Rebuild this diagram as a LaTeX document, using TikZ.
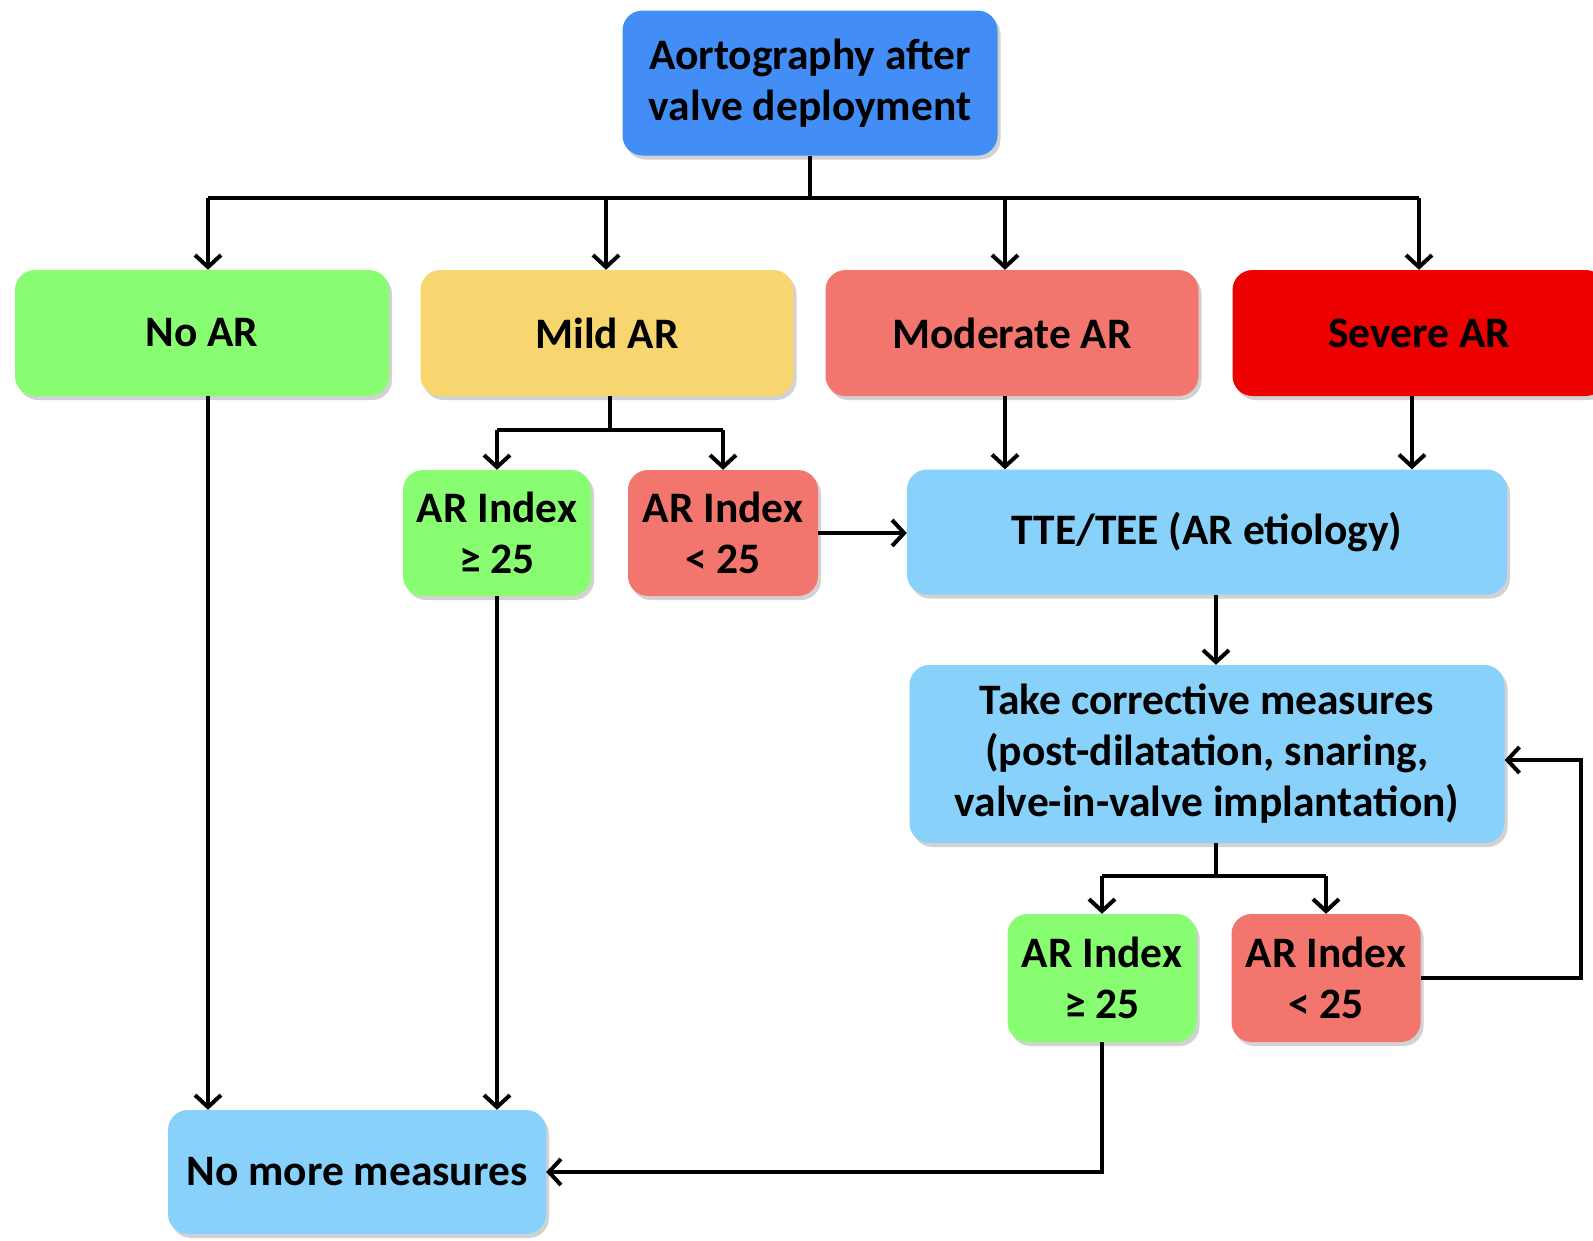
\documentclass[tikz,border=0pt]{standalone}
\usepackage{fontspec}
\setmainfont{Carlito}
\usetikzlibrary{arrows.meta,shadows,calc}
\definecolor{cblue}{RGB}{66,142,246}
\definecolor{cgreen}{RGB}{136,253,114}
\definecolor{cyellow}{RGB}{247,214,112}
\definecolor{csalmon}{RGB}{243,118,110}
\definecolor{cred}{RGB}{236,0,0}
\definecolor{clight}{RGB}{135,209,250}
\begin{document}
\begin{tikzpicture}[x=1pt,y=-1pt,
  box/.style={rounded corners=20pt, draw=none, align=center,
    font=\fontsize{43.5}{51}\selectfont\bfseries, inner sep=0pt,
    drop shadow={shadow xshift=3pt,shadow yshift=-4pt,opacity=0.25,fill=black!70}},
  conn/.style={line width=4pt, -{Straight Barb[length=12pt,width=26pt,line width=4pt]}},
  plain/.style={line width=4pt}
]
\useasboundingbox (0,0) rectangle (1593,1240);
\clip (0,0) rectangle (1593,1240);
\fill[white] (0,0) rectangle (1593,1240);

\node[box, fill=cblue, minimum width=375pt, minimum height=145pt] (top) at (810,83) {Aortography after\\valve deployment};
\node[box, fill=cgreen, minimum width=374pt, minimum height=126pt] (noar) at (202,333) {No AR};
\node[box, fill=cyellow, minimum width=373pt, minimum height=126pt] (mild) at (607,333) {Mild AR};
\node[box, fill=csalmon, minimum width=373pt, minimum height=126pt] (mod) at (1012,333) {Moderate AR};
\node[box, fill=cred, minimum width=373pt, minimum height=126pt] (sev) at (1419,333) {Severe AR};
\node[box, fill=cgreen, minimum width=188pt, minimum height=126pt] (a1g) at (497,533) {AR Index\\≥ 25};
\node[box, fill=csalmon, minimum width=190pt, minimum height=126pt] (a1r) at (723,533) {AR Index\\< 25};
\node[box, fill=clight, minimum width=600pt, minimum height=125pt] (tte) at (1207,532) {TTE/TEE (AR etiology)};
\node[box, fill=clight, minimum width=595pt, minimum height=178pt] (take) at (1207,754) {Take corrective measures\\(post-dilatation, snaring,\\valve-in-valve implantation)};
\node[box, fill=cgreen, minimum width=189pt, minimum height=128pt] (a2g) at (1102,978) {AR Index\\≥ 25};
\node[box, fill=csalmon, minimum width=189pt, minimum height=128pt] (a2r) at (1326,978) {AR Index\\< 25};
\node[box, fill=clight, minimum width=378pt, minimum height=124pt] (nomore) at (357,1172) {No more measures};

% top split
\coordinate (h) at (0,198);
\coordinate (xn) at ([xshift=6pt]noar.north);
\coordinate (xm) at ([xshift=-1pt]mild.north);
\coordinate (xd) at ([xshift=-7pt]mod.north);
\coordinate (xs) at (sev.north);
\draw[plain] (top.south) -- (top.south |- h);
\draw[plain] (xn |- h) -- (xs |- h);
\draw[conn] (xn |- h) -- (xn);
\draw[conn] (xm |- h) -- (xm);
\draw[conn] (xd |- h) -- (xd);
\draw[conn] (xs |- h) -- (xs);

% mild split
\coordinate (m) at (0,430);
\coordinate (ms) at ([xshift=3pt]mild.south);
\draw[plain] (ms) -- (ms |- m);
\draw[plain] (a1g.north |- m) -- (a1r.north |- m);
\draw[conn] (a1g.north |- m) -- (a1g.north);
\draw[conn] (a1r.north |- m) -- (a1r.north);
\draw[conn] (a1r.east) -- (a1r.east -| tte.west);
\coordinate (ds) at ([xshift=-7pt]mod.south);
\coordinate (ss) at ([xshift=-7pt]sev.south);
\draw[conn] (ds) -- (ds |- tte.north);
\draw[conn] (ss) -- (ss |- tte.north);
\coordinate (ts) at ([xshift=9pt]tte.south);
\draw[conn] (ts) -- (ts |- take.north);

% take split
\coordinate (t) at (0,876);
\coordinate (ks) at ([xshift=9pt]take.south);
\draw[plain] (ks) -- (ks |- t);
\draw[plain] (a2g.north |- t) -- (a2r.north |- t);
\draw[conn] (a2g.north |- t) -- (a2g.north);
\draw[conn] (a2r.north |- t) -- (a2r.north);

% loop back
\coordinate (loop) at (1581,0);
\coordinate (te) at ([yshift=-6pt]take.east);
\draw[conn] (a2r.east) -- (a2r.east -| loop) -- (loop |- te) -- (te);

% to no more measures
\draw[conn] (a2g.south) |- (nomore.east);
\draw[conn] (a1g.south) -- (a1g.south |- nomore.north);
\draw[conn] (xn |- noar.south) -- (xn |- nomore.north);
\end{tikzpicture}
\end{document}
